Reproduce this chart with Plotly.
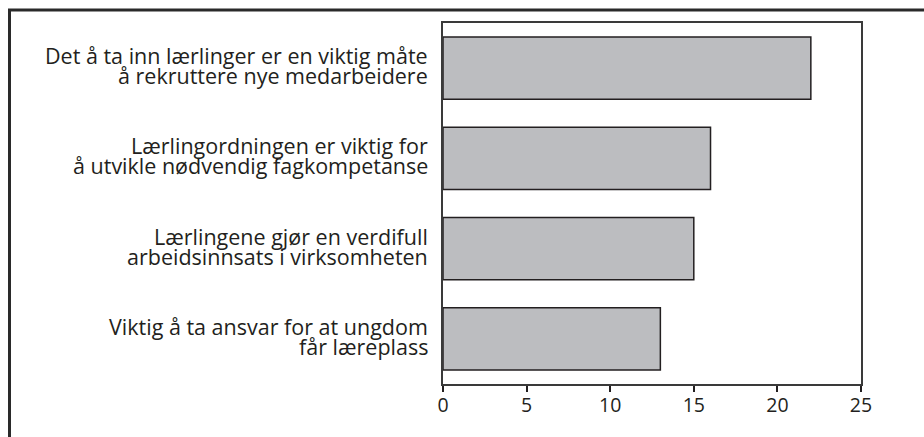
import plotly.graph_objects as go

label_lines = [
    ["Det å ta inn lærlinger er en viktig måte", "å rekruttere nye medarbeidere"],
    ["Lærlingordningen er viktig for", "å utvikle nødvendig fagkompetanse"],
    ["Lærlingene gjør en verdifull", "arbeidsinnsats i virksomheten"],
    ["Viktig å ta ansvar for at ungdom", "får læreplass"],
]
categories = [" ".join(l) for l in label_lines]
values = [22, 16, 15, 13]
x_ticks = [0, 5, 10, 15, 20, 25]

W, H = 924, 437
ML, MR, MT, MB = 443, 63, 23, 53
PW, PH = W - ML - MR, H - MT - MB

TXT = "#231f20"
FONT = "Open Sans, Noto Sans, DejaVu Sans, sans-serif"

fig = go.Figure(go.Bar(
    x=values, y=categories, orientation="h",
    marker=dict(color="#bcbdc0", line=dict(color="#231f20", width=1.5)),
    width=0.69,
))

# category labels, two tightly spaced lines each, right-aligned next to the axis
for cat, lines in zip(categories, label_lines):
    for i, line in enumerate(lines):
        fig.add_annotation(text=line, xref="paper", x=0, xanchor="right", xshift=-13,
                           yref="y", y=cat, yanchor="middle", yshift=12.5 - 20 * i,
                           showarrow=False, font=dict(family=FONT, size=21.5, color=TXT))

def px2x(px):
    return (px - ML) / PW

def py2y(py):
    return (H - MB - py) / PH

fig.add_shape(type="path", xref="paper", yref="paper",
              path=f"M {px2x(9.5)} {py2y(440)} L {px2x(9.5)} {py2y(10)} L {px2x(930)} {py2y(10)}",
              line=dict(color="#2a2a2a", width=3))

fig.update_layout(
    width=W, height=H,
    margin=dict(l=ML, r=MR, t=MT, b=MB, pad=0),
    paper_bgcolor="white", plot_bgcolor="white",
    font=dict(family=FONT, size=19, color=TXT),
    showlegend=False,
    xaxis=dict(range=[0, 25], tickvals=x_ticks, ticks="outside", ticklen=6,
               tickcolor="#231f20", tickwidth=1.5, ticklabelstandoff=-3,
               showgrid=False, zeroline=False, showline=True, linecolor="#3a3a3a",
               linewidth=2, mirror=True, tickfont=dict(size=19.5, color=TXT)),
    yaxis=dict(autorange="reversed", showgrid=False, showline=True, linecolor="#3a3a3a",
               linewidth=2, mirror=True, ticks="", showticklabels=False),
)

fig.write_html("out.html", config={"displayModeBar": False},
               post_script="document.body.style.margin='0';document.body.style.overflow='hidden';")
